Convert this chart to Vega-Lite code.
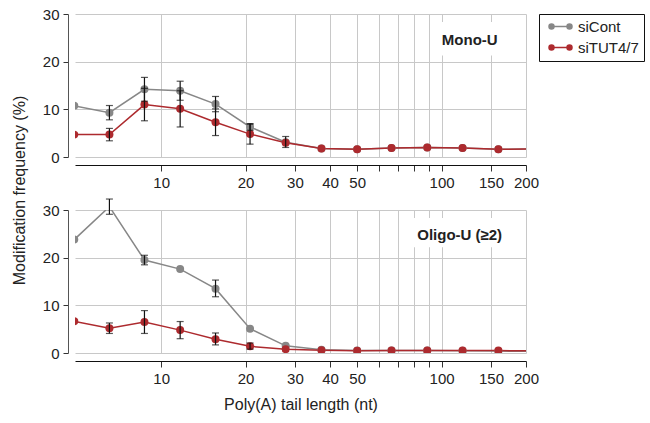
{
  "$schema": "https://vega.github.io/schema/vega-lite/v6.json",
  "background": "white",
  "padding": {"top": 7, "left": 11, "right": 0, "bottom": 5},
  "config": {
    "font": "Liberation Sans",
    "view": {"stroke": null},
    "axis": {
      "labelFont": "Liberation Sans",
      "labelFontSize": 15,
      "labelColor": "#222222",
      "titleFont": "Liberation Sans",
      "titleFontSize": 16,
      "titleFontWeight": "normal",
      "titleColor": "#222222",
      "gridColor": "#c8c8c8",
      "gridWidth": 1,
      "tickColor": "#333333",
      "domainColor": "#333333"
    },
    "legend": {
      "labelFont": "Liberation Sans",
      "labelFontSize": 15,
      "labelColor": "#222222"
    }
  },
  "datasets": {
    "d": [
      {"panel": "mono", "group": "siCont", "len": 4.9, "value": 10.75, "lo": null, "hi": null},
      {"panel": "mono", "group": "siCont", "len": 6.54, "value": 9.3, "lo": 7.8, "hi": 10.8},
      {"panel": "mono", "group": "siCont", "len": 8.72, "value": 14.2, "lo": 11.7, "hi": 16.7},
      {"panel": "mono", "group": "siCont", "len": 11.69, "value": 13.9, "lo": 11.9, "hi": 15.9},
      {"panel": "mono", "group": "siCont", "len": 15.63, "value": 11.1, "lo": 9.5, "hi": 12.7},
      {"panel": "mono", "group": "siCont", "len": 20.75, "value": 6.3, "lo": 5.6, "hi": 7.0},
      {"panel": "mono", "group": "siCont", "len": 27.8, "value": 3.1, "lo": 2.0, "hi": 4.3},
      {"panel": "mono", "group": "siCont", "len": 37.3, "value": 1.8, "lo": null, "hi": null},
      {"panel": "mono", "group": "siCont", "len": 50, "value": 1.6, "lo": null, "hi": null},
      {"panel": "mono", "group": "siCont", "len": 66.3, "value": 1.9, "lo": null, "hi": null},
      {"panel": "mono", "group": "siCont", "len": 88.9, "value": 2.0, "lo": null, "hi": null},
      {"panel": "mono", "group": "siCont", "len": 118.8, "value": 1.9, "lo": null, "hi": null},
      {"panel": "mono", "group": "siCont", "len": 159.4, "value": 1.6, "lo": null, "hi": null},
      {"panel": "mono", "group": "siCont", "len": 212, "value": 1.7, "lo": null, "hi": null},
      {"panel": "mono", "group": "siTUT4/7", "len": 4.9, "value": 4.7, "lo": null, "hi": null},
      {"panel": "mono", "group": "siTUT4/7", "len": 6.54, "value": 4.7, "lo": 3.4, "hi": 6.0},
      {"panel": "mono", "group": "siTUT4/7", "len": 8.72, "value": 11.0, "lo": 7.6, "hi": 14.4},
      {"panel": "mono", "group": "siTUT4/7", "len": 11.69, "value": 10.1, "lo": 6.3, "hi": 13.9},
      {"panel": "mono", "group": "siTUT4/7", "len": 15.63, "value": 7.3, "lo": 4.5, "hi": 10.1},
      {"panel": "mono", "group": "siTUT4/7", "len": 20.75, "value": 4.8, "lo": 2.7, "hi": 6.9},
      {"panel": "mono", "group": "siTUT4/7", "len": 27.8, "value": 3.0, "lo": null, "hi": null},
      {"panel": "mono", "group": "siTUT4/7", "len": 37.3, "value": 1.8, "lo": null, "hi": null},
      {"panel": "mono", "group": "siTUT4/7", "len": 50, "value": 1.6, "lo": null, "hi": null},
      {"panel": "mono", "group": "siTUT4/7", "len": 66.3, "value": 1.9, "lo": null, "hi": null},
      {"panel": "mono", "group": "siTUT4/7", "len": 88.9, "value": 2.0, "lo": null, "hi": null},
      {"panel": "mono", "group": "siTUT4/7", "len": 118.8, "value": 1.9, "lo": null, "hi": null},
      {"panel": "mono", "group": "siTUT4/7", "len": 159.4, "value": 1.6, "lo": null, "hi": null},
      {"panel": "mono", "group": "siTUT4/7", "len": 212, "value": 1.7, "lo": null, "hi": null},
      {"panel": "oligo", "group": "siCont", "len": 4.9, "value": 23.8, "lo": null, "hi": null},
      {"panel": "oligo", "group": "siCont", "len": 6.54, "value": 30.7, "lo": 29.1, "hi": 32.3},
      {"panel": "oligo", "group": "siCont", "len": 8.72, "value": 19.5, "lo": 18.5, "hi": 20.5},
      {"panel": "oligo", "group": "siCont", "len": 11.69, "value": 17.6, "lo": null, "hi": null},
      {"panel": "oligo", "group": "siCont", "len": 15.63, "value": 13.5, "lo": 11.8, "hi": 15.3},
      {"panel": "oligo", "group": "siCont", "len": 20.75, "value": 5.1, "lo": null, "hi": null},
      {"panel": "oligo", "group": "siCont", "len": 27.8, "value": 1.5, "lo": null, "hi": null},
      {"panel": "oligo", "group": "siCont", "len": 37.3, "value": 0.7, "lo": null, "hi": null},
      {"panel": "oligo", "group": "siCont", "len": 50, "value": 0.5, "lo": null, "hi": null},
      {"panel": "oligo", "group": "siCont", "len": 66.3, "value": 0.5, "lo": null, "hi": null},
      {"panel": "oligo", "group": "siCont", "len": 88.9, "value": 0.5, "lo": null, "hi": null},
      {"panel": "oligo", "group": "siCont", "len": 118.8, "value": 0.45, "lo": null, "hi": null},
      {"panel": "oligo", "group": "siCont", "len": 159.4, "value": 0.4, "lo": null, "hi": null},
      {"panel": "oligo", "group": "siCont", "len": 212, "value": 0.35, "lo": null, "hi": null},
      {"panel": "oligo", "group": "siTUT4/7", "len": 4.9, "value": 6.65, "lo": null, "hi": null},
      {"panel": "oligo", "group": "siTUT4/7", "len": 6.54, "value": 5.2, "lo": 4.1, "hi": 6.3},
      {"panel": "oligo", "group": "siTUT4/7", "len": 8.72, "value": 6.5, "lo": 4.1, "hi": 8.9},
      {"panel": "oligo", "group": "siTUT4/7", "len": 11.69, "value": 4.8, "lo": 3.0, "hi": 6.6},
      {"panel": "oligo", "group": "siTUT4/7", "len": 15.63, "value": 2.9, "lo": 1.7, "hi": 4.2},
      {"panel": "oligo", "group": "siTUT4/7", "len": 20.75, "value": 1.4, "lo": 0.8, "hi": 2.1},
      {"panel": "oligo", "group": "siTUT4/7", "len": 27.8, "value": 0.8, "lo": null, "hi": null},
      {"panel": "oligo", "group": "siTUT4/7", "len": 37.3, "value": 0.6, "lo": null, "hi": null},
      {"panel": "oligo", "group": "siTUT4/7", "len": 50, "value": 0.45, "lo": null, "hi": null},
      {"panel": "oligo", "group": "siTUT4/7", "len": 66.3, "value": 0.5, "lo": null, "hi": null},
      {"panel": "oligo", "group": "siTUT4/7", "len": 88.9, "value": 0.5, "lo": null, "hi": null},
      {"panel": "oligo", "group": "siTUT4/7", "len": 118.8, "value": 0.5, "lo": null, "hi": null},
      {"panel": "oligo", "group": "siTUT4/7", "len": 159.4, "value": 0.5, "lo": null, "hi": null},
      {"panel": "oligo", "group": "siTUT4/7", "len": 212, "value": 0.45, "lo": null, "hi": null}
    ],
    "labels": [
      {"panel": "mono", "label": "Mono-U", "tx": 126, "ty": 24.6, "bx1": 94, "bx2": 172, "by1": 21.3, "by2": 28.3},
      {"panel": "oligo", "label": "Oligo-U (≥2)", "tx": 116, "ty": 24.8, "bx1": 75, "bx2": 180, "by1": 22.2, "by2": 28.3}
    ]
  },
  "bounds": "flush",
  "spacing": 53,
  "vconcat": [
    {
      "width": 451,
      "height": 143,
      "layer": [
        {
          "data": {"name": "labels"},
          "transform": [{"filter": "datum.panel === 'mono'"}],
          "mark": {"type": "rect", "color": "white"},
          "encoding": {
            "x": {"field": "bx1", "type": "quantitative", "scale": {"type": "log", "domain": [4.93, 200], "nice": false},
              "axis": {"title": null, "values": [10, 20, 30, 40, 50, 60, 70, 80, 90, 100, 150, 200], "format": "d",
                "labelExpr": "datum.value >= 60 && datum.value <= 90 ? '' : datum.label",
                "offset": 8, "tickSize": 6, "labelPadding": 4, "domainColor": "#111111", "labelFlush": false}},
            "x2": {"field": "bx2"},
            "y": {"field": "by1", "type": "quantitative", "scale": {"domain": [0, 30], "nice": false},
              "axis": {"title": "Modification frequency (%)", "values": [0, 10, 20, 30], "offset": 7, "tickSize": 5,
                "labelPadding": 4, "titleY": 176, "titlePadding": 15, "domainColor": "#555555"}},
            "y2": {"field": "by2"}
          }
        },
        {
          "data": {"name": "labels"},
          "transform": [{"filter": "datum.panel === 'mono'"}],
          "mark": {"type": "text", "fontWeight": "bold", "fontSize": 15, "color": "#222222", "align": "center", "baseline": "middle"},
          "encoding": {
            "x": {"field": "tx", "type": "quantitative"},
            "y": {"field": "ty", "type": "quantitative"},
            "text": {"field": "label"}
          }
        },
        {
          "data": {"name": "d"},
          "transform": [{"filter": "datum.panel === 'mono'"}],
          "mark": {"type": "line", "strokeWidth": 1.5, "clip": true},
          "encoding": {
            "x": {"field": "len", "type": "quantitative"},
            "y": {"field": "value", "type": "quantitative"},
            "color": {"field": "group", "type": "nominal",
              "scale": {"domain": ["siCont", "siTUT4/7"], "range": ["#878787", "#ad2a2e"]},
              "legend": {"title": null, "orient": "right", "offset": 0, "strokeColor": "#111111", "padding": 5,
                "symbolType": "M0,0L3.6,0M-0.5,0a0.5,0.5 0 1,0 1,0a0.5,0.5 0 1,0 -1,0M3.1,0a0.5,0.5 0 1,0 1,0a0.5,0.5 0 1,0 -1,0",
                "symbolSize": 100, "symbolStrokeWidth": 1.5, "labelOffset": 19, "rowPadding": 5,
                "encode": {"symbols": {"update": {"stroke": {"scale": "color", "field": "value"}, "fill": {"scale": "color", "field": "value"}}}}}}
          }
        },
        {
          "data": {"name": "d"},
          "transform": [{"filter": "datum.panel === 'mono'"}],
          "mark": {"type": "point", "filled": true, "size": 64, "opacity": 1, "clip": true},
          "encoding": {
            "x": {"field": "len", "type": "quantitative"},
            "y": {"field": "value", "type": "quantitative"},
            "color": {"field": "group", "type": "nominal"}
          }
        },
        {
          "data": {"name": "d"},
          "transform": [{"filter": "datum.panel === 'mono' && datum.lo != null"}],
          "mark": {"type": "rule", "color": "#111111", "strokeWidth": 1.2},
          "encoding": {
            "x": {"field": "len", "type": "quantitative"},
            "y": {"field": "lo", "type": "quantitative"},
            "y2": {"field": "hi"}
          }
        },
        {
          "data": {"name": "d"},
          "transform": [{"filter": "datum.panel === 'mono' && datum.lo != null"}],
          "mark": {"type": "tick", "orient": "horizontal", "size": 7, "thickness": 1.2, "color": "#111111"},
          "encoding": {
            "x": {"field": "len", "type": "quantitative"},
            "y": {"field": "lo", "type": "quantitative"}
          }
        },
        {
          "data": {"name": "d"},
          "transform": [{"filter": "datum.panel === 'mono' && datum.lo != null"}],
          "mark": {"type": "tick", "orient": "horizontal", "size": 7, "thickness": 1.2, "color": "#111111"},
          "encoding": {
            "x": {"field": "len", "type": "quantitative"},
            "y": {"field": "hi", "type": "quantitative"}
          }
        }
      ]
    },
    {
      "width": 451,
      "height": 143,
      "layer": [
        {
          "data": {"name": "labels"},
          "transform": [{"filter": "datum.panel === 'oligo'"}],
          "mark": {"type": "rect", "color": "white"},
          "encoding": {
            "x": {"field": "bx1", "type": "quantitative", "scale": {"type": "log", "domain": [4.93, 200], "nice": false},
              "axis": {"title": "Poly(A) tail length (nt)", "values": [10, 20, 30, 40, 50, 60, 70, 80, 90, 100, 150, 200], "format": "d",
                "labelExpr": "datum.value >= 60 && datum.value <= 90 ? '' : datum.label",
                "offset": 8, "tickSize": 6, "labelPadding": 4, "titlePadding": 10, "domainColor": "#111111", "labelFlush": false}},
            "x2": {"field": "bx2"},
            "y": {"field": "by1", "type": "quantitative", "scale": {"domain": [0, 30], "nice": false},
              "axis": {"title": null, "values": [0, 10, 20, 30], "offset": 7, "tickSize": 5, "labelPadding": 4, "domainColor": "#555555"}},
            "y2": {"field": "by2"}
          }
        },
        {
          "data": {"name": "labels"},
          "transform": [{"filter": "datum.panel === 'oligo'"}],
          "mark": {"type": "text", "fontWeight": "bold", "fontSize": 15, "color": "#222222", "align": "center", "baseline": "middle"},
          "encoding": {
            "x": {"field": "tx", "type": "quantitative"},
            "y": {"field": "ty", "type": "quantitative"},
            "text": {"field": "label"}
          }
        },
        {
          "data": {"name": "d"},
          "transform": [{"filter": "datum.panel === 'oligo'"}],
          "mark": {"type": "line", "strokeWidth": 1.5, "clip": true},
          "encoding": {
            "x": {"field": "len", "type": "quantitative"},
            "y": {"field": "value", "type": "quantitative"},
            "color": {"field": "group", "type": "nominal"}
          }
        },
        {
          "data": {"name": "d"},
          "transform": [{"filter": "datum.panel === 'oligo'"}],
          "mark": {"type": "point", "filled": true, "size": 64, "opacity": 1, "clip": true},
          "encoding": {
            "x": {"field": "len", "type": "quantitative"},
            "y": {"field": "value", "type": "quantitative"},
            "color": {"field": "group", "type": "nominal"}
          }
        },
        {
          "data": {"name": "d"},
          "transform": [{"filter": "datum.panel === 'oligo' && datum.lo != null"}],
          "mark": {"type": "rule", "color": "#111111", "strokeWidth": 1.2},
          "encoding": {
            "x": {"field": "len", "type": "quantitative"},
            "y": {"field": "lo", "type": "quantitative"},
            "y2": {"field": "hi"}
          }
        },
        {
          "data": {"name": "d"},
          "transform": [{"filter": "datum.panel === 'oligo' && datum.lo != null"}],
          "mark": {"type": "tick", "orient": "horizontal", "size": 7, "thickness": 1.2, "color": "#111111"},
          "encoding": {
            "x": {"field": "len", "type": "quantitative"},
            "y": {"field": "lo", "type": "quantitative"}
          }
        },
        {
          "data": {"name": "d"},
          "transform": [{"filter": "datum.panel === 'oligo' && datum.lo != null"}],
          "mark": {"type": "tick", "orient": "horizontal", "size": 7, "thickness": 1.2, "color": "#111111"},
          "encoding": {
            "x": {"field": "len", "type": "quantitative"},
            "y": {"field": "hi", "type": "quantitative"}
          }
        }
      ]
    }
  ],
  "resolve": {"scale": {"color": "shared"}}
}
